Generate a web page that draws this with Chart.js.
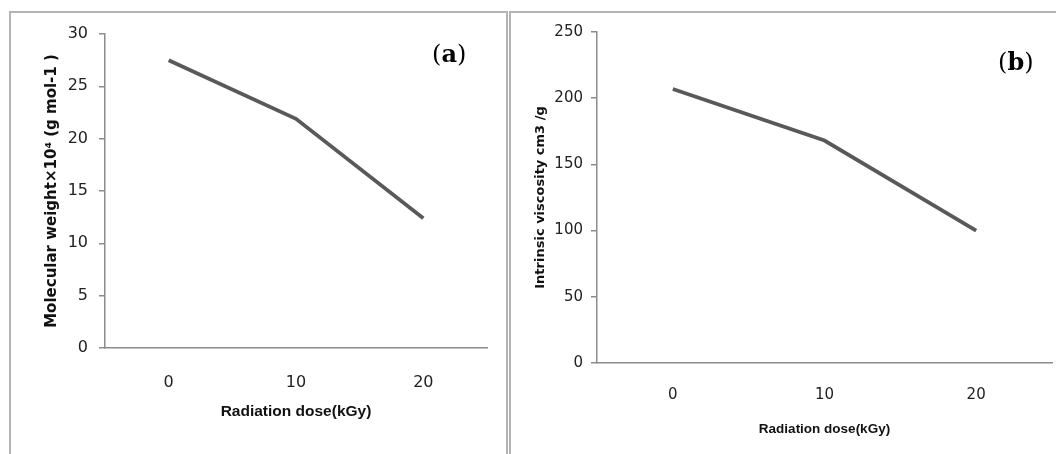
<!DOCTYPE html>
<html lang="en">
<head>
    <meta charset="UTF-8">
    <title>Radiation dose charts</title>
    <script src="https://cdn.jsdelivr.net/npm/chart.js"></script>
    <style>
        body {
            margin: 0;
            width: 1056px;
            height: 454px;
            background: #fff;
            overflow: hidden;
            position: relative;
        }
        .frame {
            position: absolute;
            border: 2px solid #b4b4b4;
            box-sizing: border-box;
        }
        #frameA { left: 9px; top: 11px; width: 499px; height: 460px; }
        #frameB { left: 509px; top: 11px; width: 560px; height: 460px; }
        .tag {
            position: absolute;
            font-family: "DejaVu Serif", "Liberation Serif", serif;
            font-size: 24px;
            color: #000;
        }
        .tag b { font-weight: bold; }
        #tagA { left: 432px; top: 39px; }
        #tagB { left: 998px; top: 47px; }
        canvas { position: absolute; top: 0; }
        #chartA { left: 0; }
        #chartB { left: 508px; }
    </style>
</head>
<body>
    <div class="frame" id="frameA"></div>
    <div class="frame" id="frameB"></div>
    <canvas id="chartA" width="508" height="454"></canvas>
    <canvas id="chartB" width="548" height="454"></canvas>
    <div class="tag" id="tagA">(<b>a</b>)</div>
    <div class="tag" id="tagB">(<b>b</b>)</div>

    <script>
        // data
        const doses = ['0', '10', '20'];
        const molecularWeight = [27.5, 21.9, 12.4];
        const intrinsicViscosity = [207, 168, 100];
        const weightTicks = [0, 30, 5];      // min, max, step
        const viscosityTicks = [0, 250, 50];

        const fontFamily = '"DejaVu Sans", "Noto Sans", sans-serif';
        const xTitleFamily = '"Liberation Sans", Arial, sans-serif';

        function makeChart(id, values, range, opt) {
            const ctx = document.getElementById(id).getContext('2d');
            return new Chart(ctx, {
                type: 'line',
                data: {
                    labels: doses,
                    datasets: [{
                        data: values,
                        borderColor: '#595959',
                        borderWidth: 3.8,
                        pointRadius: 0,
                        tension: 0,
                        fill: false
                    }]
                },
                options: {
                    responsive: false,
                    animation: false,
                    layout: { padding: { left: 0, top: opt.top, right: opt.right, bottom: 0 } },
                    plugins: { legend: { display: false }, tooltip: { enabled: false } },
                    scales: {
                        x: {
                            offset: true,
                            grid: { display: false, drawTicks: false },
                            border: { display: true, color: '#8c8c8c', width: 1.5 },
                            ticks: {
                                color: '#222',
                                padding: opt.xPad,
                                font: { family: fontFamily, size: opt.tickSize }
                            },
                            title: {
                                display: true,
                                text: 'Radiation dose(kGy)',
                                color: '#111',
                                font: { family: xTitleFamily, size: opt.xTitleSize, weight: 'bold' },
                                padding: { top: 0, bottom: opt.xTitlePad }
                            },
                            afterFit: function (scale) { scale.height = opt.xHeight; }
                        },
                        y: {
                            min: range[0],
                            max: range[1],
                            ticks: {
                                stepSize: range[2],
                                color: '#222',
                                padding: opt.yPad,
                                font: { family: fontFamily, size: opt.tickSize }
                            },
                            grid: { drawOnChartArea: false, tickLength: 6, color: '#8c8c8c', lineWidth: 1.5 },
                            border: { display: true, color: '#8c8c8c', width: 1.5 },
                            title: {
                                display: true,
                                text: opt.yTitle,
                                color: '#111',
                                font: { family: fontFamily, size: opt.yTitleSize, weight: 'bold' },
                                padding: { top: opt.yTitlePad, bottom: 0 }
                            },
                            afterFit: function (scale) { scale.width = opt.yWidth; }
                        }
                    }
                }
            });
        }

        makeChart('chartA', molecularWeight, weightTicks, {
            top: 34, right: 21, xHeight: 106, yWidth: 105,
            tickSize: 16, xPad: 25, yPad: 11,
            xTitleSize: 15.5, xTitlePad: 33,
            yTitle: 'Molecular weight×10⁴ (g mol-1 )', yTitleSize: 15, yTitlePad: 43
        });

        makeChart('chartB', intrinsicViscosity, viscosityTicks, {
            top: 32, right: 4, xHeight: 91, yWidth: 89,
            tickSize: 15, xPad: 23, yPad: 8,
            xTitleSize: 13.5, xTitlePad: 17,
            yTitle: 'Intrinsic viscosity cm3 /g', yTitleSize: 13, yTitlePad: 25
        });
    </script>
</body>
</html>
